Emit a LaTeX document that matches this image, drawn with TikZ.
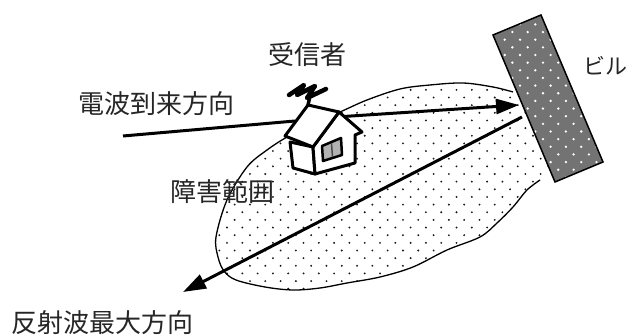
\documentclass[tikz,border=0pt]{standalone}
\usepackage{fontspec}
\newfontfamily\jp{Noto Sans CJK JP}
\usetikzlibrary{arrows.meta}
\begin{document}
\begin{tikzpicture}[x=1pt,y=-1pt,
  caption/.style={font=\jp\fontsize{26}{30}\selectfont, inner sep=0pt, text=black!85},
  smallcaption/.style={caption, font=\jp\fontsize{22}{26}\selectfont},
  ray/.style={line width=3pt},
  rayarrow/.style={ray, -{Triangle[length=23pt,width=15pt]}},
  outline/.style={line width=1.3pt},
  house/.style={draw, fill=white, line width=3pt, line join=round},
]
\useasboundingbox (0,0) rectangle (632,336);

% --- dotted area (shadowed region) ---
\begin{scope}
  \clip plot[smooth cycle, tension=0.55] coordinates {
    (513,92) (493,87) (463,83) (430,85) (400,89) (367,100) (340,112)
    (312,124) (287,137) (267,150) (247,167) (227,200) (216,237) (218,257)
    (224,271) (236,280) (265,287) (293,290) (320,288) (347,283) (380,277)
    (413,267) (447,250) (480,237) (497,223) (513,207) (527,190) (540,180)
    (552,150) (535,100)};
  \fill[white] (200,70) rectangle (570,300);
  \foreach \r in {0,...,30} {
    \foreach \c in {0,...,24} {
      \fill[black!90] ({196.4+15.3*\c+7.65*mod(\r,2)}, {74.55+7.65*\r}) circle (1.05pt);
    }
  }
\end{scope}
\draw[outline] plot[smooth, tension=0.55] coordinates {
    (513,92) (493,87) (463,83) (430,85) (400,89) (367,100) (340,112)
    (312,124) (287,137) (267,150) (247,167) (227,200) (216,237) (218,257)
    (224,271) (236,280) (265,287) (293,290) (320,288) (347,283) (380,277)
    (413,267) (447,250) (480,237) (497,223) (513,207) (527,190) (540,180)};

% --- rays ---
\coordinate (src)  at (123,136);
\coordinate (hin)  at (295,121);
\coordinate (hout) at (336,117);
\coordinate (hit)  at (519,105);
\coordinate (refl) at (522,117);
\coordinate (far)  at (183,292);
\draw[ray] (src) -- (hin);
\draw[rayarrow] (hout) -- (hit);
\draw[rayarrow] (refl) -- (far);

% --- building ---
\coordinate (b1) at (493,35);
\coordinate (b2) at (541,15);
\coordinate (b3) at (603,162);
\coordinate (b4) at (555,182);
\fill[black!55] (b1) -- (b2) -- (b3) -- (b4) -- cycle;
\begin{scope}
  \clip (b1) -- (b2) -- (b3) -- (b4) -- cycle;
  \foreach \r in {0,...,24} {
    \foreach \c in {0,...,8} {
      \fill[white] ({489.4+15.3*\c+7.65*mod(\r,2)}, {9.1+7.65*\r}) circle (1.3pt);
    }
  }
\end{scope}
\draw[line width=1.5pt, line join=miter] (b1) -- (b2) -- (b3) -- (b4) -- cycle;

% --- house ---
\coordinate (A) at (285,136);
\coordinate (B) at (308,105);
\coordinate (C) at (339,112);
\coordinate (D) at (313,147);
\coordinate (E) at (362,132);
\coordinate (G1) at (355,135);
\coordinate (G2) at (355,163);
\coordinate (F) at (315,174);
\coordinate (W1) at (290,142);
\coordinate (W2) at (293,168);
\filldraw[house] (W1) -- (D) -- (F) -- (W2) -- cycle;
\filldraw[house] (D) -- (C) -- (E) -- (G1) -- (G2) -- (F) -- cycle;
\filldraw[house] (A) -- (B) -- (C) -- (D) -- cycle;
% window
\filldraw[fill=black!30, draw=black, line width=2.5pt, line join=round]
  (322,146) -- (341,138) -- (342,155) -- (323,161) -- cycle;
\draw[black!70, line width=1.5pt] (331.5,143) -- (332.5,157);
% antenna
\draw[line width=3.5pt, line cap=round] (B) -- (310,96);
\draw[line width=4.5pt, line cap=round, line join=round]
  (289,95) -- (304,85) -- (297,95) -- (315,86) -- (307,98) -- (326,89);

% --- labels ---
\node[caption] (recv) at (307,55) {受信者};
\node[caption] (dir) at (156,104) {電波到来方向};
\node[caption] (area) at (222,192) {障害範囲};
\node[smallcaption] (bldg) at (605,66) {ビル};
\node[caption] (refldir) at (103,323) {反射波最大方向};
\end{tikzpicture}
\end{document}
